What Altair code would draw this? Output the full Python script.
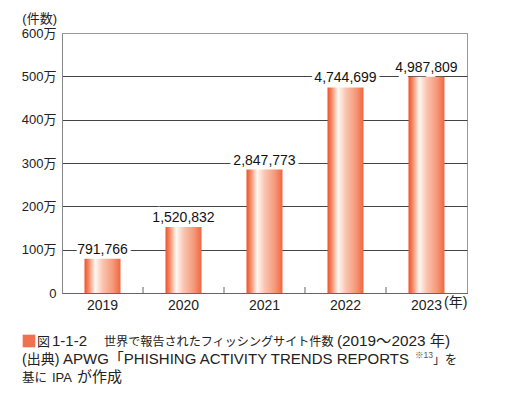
import altair as alt
import pandas as pd

years = ["2019", "2020", "2021", "2022", "2023"]
counts = [791766, 1520832, 2847773, 4744699, 4987809]
y_ticks = [0, 1000000, 2000000, 3000000, 4000000, 5000000, 6000000]

W, H = 405, 260
FONT = "Liberation Sans, Noto Sans CJK JP"

df = pd.DataFrame({"year": years, "count": counts})

x_enc = alt.X("year:N", sort=years,
              scale=alt.Scale(paddingInner=0, paddingOuter=0),
              axis=alt.Axis(title=None, labelAngle=0, labelFontSize=14, labelFont=FONT,
                            labelColor="#222", ticks=False, domainColor="#666",
                            labelPadding=5, grid=False))
y_enc = alt.Y("count:Q", scale=alt.Scale(domain=[0, 6000000], nice=False),
              axis=alt.Axis(title=None, values=y_ticks, ticks=False, domainColor="#888",
                            labelFontSize=13, labelFont=FONT, labelColor="#222",
                            labelPadding=6,
                            labelExpr="datum.value == 0 ? '0' : (datum.value/10000) + '万'",
                            gridColor={"condition": {"test": "datum.value >= 6000000", "value": "#999"},
                                       "value": "#444"},
                            gridWidth=1))

base = alt.Chart(df)

halo = base.mark_text(fontSize=14, font=FONT, stroke="white", strokeWidth=7,
                      fill="white", dy=-5, baseline="alphabetic").encode(
    x=x_enc, y=y_enc, text=alt.Text("count:Q", format=","))

grad = alt.Gradient(
    gradient="linear", x1=0, x2=1, y1=0, y2=0,
    stops=[
        alt.GradientStop(offset=0.0, color="#EE5226"),
        alt.GradientStop(offset=0.12, color="#F58C68"),
        alt.GradientStop(offset=0.3, color="#FFF8F3"),
        alt.GradientStop(offset=0.5, color="#FAC6B2"),
        alt.GradientStop(offset=0.8, color="#F59676"),
        alt.GradientStop(offset=1.0, color="#F06640"),
    ])

bars = base.mark_bar(size=36, color=grad).encode(x=x_enc, y=y_enc)

labels = base.mark_text(fontSize=14, font=FONT, color="#111", dy=-5,
                        baseline="alphabetic").encode(
    x=x_enc, y=y_enc, text=alt.Text("count:Q", format=","))

ticks = alt.Chart(pd.DataFrame({"year": years[:-1]})).mark_rule(color="#666").encode(
    x=alt.X("year:N", sort=years, bandPosition=1),
    y=alt.value(H), y2=alt.value(H - 6))


def txt(s, x, y, size=14, color="#222", align="left"):
    return alt.Chart(pd.DataFrame({"t": [s]})).mark_text(
        fontSize=size, font=FONT, color=color, align=align, baseline="alphabetic").encode(
        text="t:N", x=alt.value(x), y=alt.value(y))


unit_y = txt("(件数)", -5, -10, size=13, align="right")
unit_x = txt("(年)", 382, 274, size=14)

square = alt.Chart(pd.DataFrame({"a": [1]})).mark_square(size=160, color="#F07050", opacity=1).encode(
    x=alt.value(-33), y=alt.value(308))

L1, L2, L3 = 313, 331, 349
caption = [
    txt("図", -25, L1, size=13),
    txt("1-1-2", -10, L1, size=15),
    txt("世界で報告されたフィッシングサイト件数", 42, L1, size=12.1),
    txt("(2019～2023 年)", 275, L1, size=15.3),
    txt("(出典)", -40, L2, size=14),
    txt("APWG「PHISHING ACTIVITY TRENDS REPORTS", 1, L2, size=15),
    txt("※13", 353, 325, size=8.5, color="#555"),
    txt("」を", 371, L2, size=12),
    txt("基に", -40, L3, size=12.5),
    txt("IPA", -10, L3, size=13),
    txt("が作成", 15, L3, size=15),
]

chart = alt.layer(halo, bars, labels, ticks, unit_y, unit_x, square, *caption).properties(
    width=W, height=H,
    autosize=alt.AutoSizeParams(type="none"),
    padding={"left": 54, "top": 25, "right": 30, "bottom": 94},
).configure_view(stroke="#999", strokeWidth=1)

chart.save("out.html", embed_options={"renderer": "svg", "actions": False})
